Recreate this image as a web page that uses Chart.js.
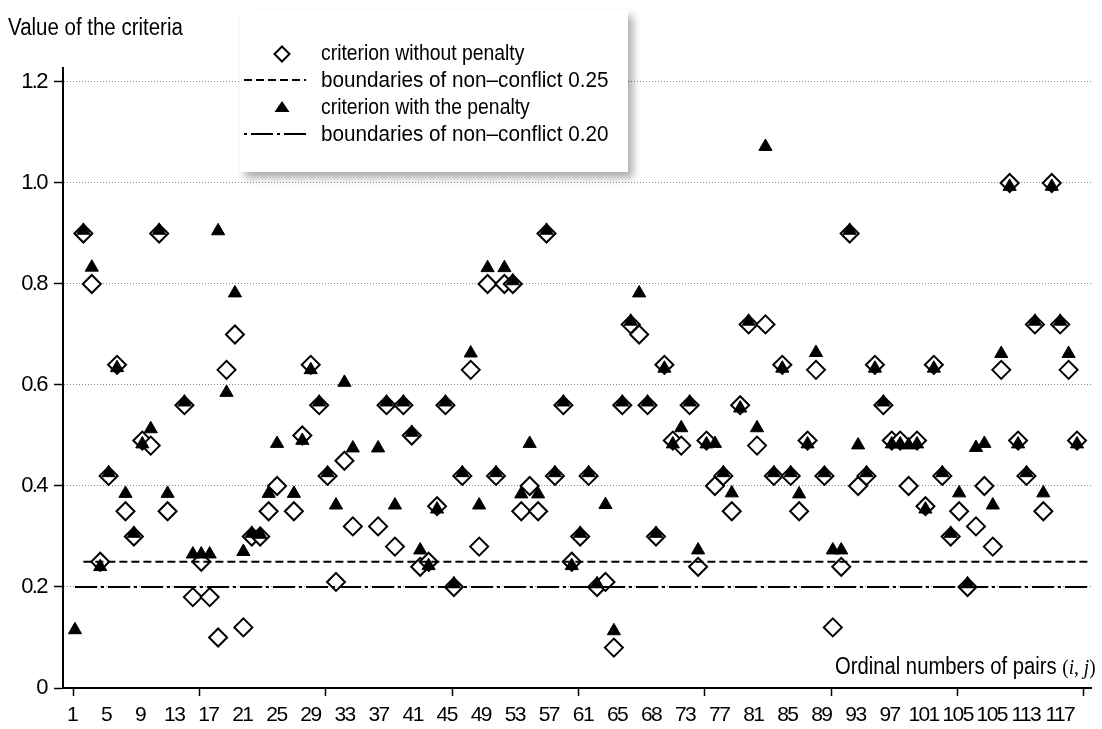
<!DOCTYPE html>
<html>
<head>
<meta charset="utf-8">
<script src="https://cdn.jsdelivr.net/npm/chart.js@4/dist/chart.umd.min.js"></script>
<style>
html,body{margin:0;padding:0;background:#fff;}
#wrap{position:relative;width:1102px;height:729px;overflow:hidden;}
#c{position:absolute;left:0;top:0;}
.txt{position:absolute;font-family:'Liberation Sans',Arial,sans-serif;color:#000;white-space:nowrap;transform-origin:0 50%;}
#legend{position:absolute;left:240px;top:10px;width:388px;height:162px;background:#fff;box-shadow:5px 6px 8px rgba(0,0,0,0.32);}
#legend svg{position:absolute;}
.serif{font-family:'Liberation Serif','DejaVu Serif',serif;}
</style>
</head>
<body>
<div id="wrap">
<canvas id="c" width="1102" height="729"></canvas>
<div class="txt" style="left:8px;top:16px;font-size:23px;line-height:23px;transform:scaleX(0.89);">Value of the criteria</div>
<div class="txt" style="left:835px;top:655px;font-size:23px;line-height:23px;transform:scaleX(0.88);">Ordinal numbers of pairs <span class="serif" style="font-size:22px;">(<i>i</i>, <i>j</i>)</span></div>
<div id="legend">
  <svg style="left:31px;top:33px;" width="22" height="22"><polygon points="11,3.5 18.5,11 11,18.5 3.5,11" fill="#fff" stroke="#000" stroke-width="2"/></svg>
  <svg style="left:4px;top:67px;" width="62" height="6"><line x1="0" y1="3" x2="62" y2="3" stroke="#000" stroke-width="2" stroke-dasharray="8,4"/></svg>
  <svg style="left:33px;top:90px;" width="18" height="14"><polygon points="9,1 16.5,12 1.5,12" fill="#000"/></svg>
  <svg style="left:4px;top:121px;" width="62" height="6"><line x1="0" y1="3" x2="62" y2="3" stroke="#000" stroke-width="2" stroke-dasharray="3,4,22,4"/></svg>
  <div class="txt" style="left:81px;top:32px;font-size:22px;line-height:22px;transform:scaleX(0.88);">criterion without penalty</div>
  <div class="txt" style="left:81px;top:59px;font-size:22px;line-height:22px;transform:scaleX(0.94);">boundaries of non&#8211;conflict 0.25</div>
  <div class="txt" style="left:81px;top:86px;font-size:22px;line-height:22px;transform:scaleX(0.88);">criterion with the penalty</div>
  <div class="txt" style="left:81px;top:113px;font-size:22px;line-height:22px;transform:scaleX(0.94);">boundaries of non&#8211;conflict 0.20</div>
</div>
</div>
<script>
// ---------------- data ----------------
const pairs = Array.from({length: 120}, (_, k) => k + 1);

const withoutPenalty = [
  null, 0.90, 0.80, 0.25, 0.42, 0.64, 0.35, 0.30, 0.49, 0.48,
  0.90, 0.35, null, 0.56, 0.18, 0.25, 0.18, 0.10, 0.63, 0.70,
  0.12, 0.30, 0.30, 0.35, 0.40, null, 0.35, 0.50, 0.64, 0.56,
  0.42, 0.21, 0.45, 0.32, null, null, 0.32, 0.56, 0.28, 0.56,
  0.50, 0.24, 0.25, 0.36, 0.56, 0.20, 0.42, 0.63, 0.28, 0.80,
  0.42, 0.80, 0.80, 0.35, 0.40, 0.35, 0.90, 0.42, 0.56, 0.25,
  0.30, 0.42, 0.20, 0.21, 0.08, 0.56, 0.72, 0.70, 0.56, 0.30,
  0.64, 0.49, 0.48, 0.56, 0.24, 0.49, 0.40, 0.42, 0.35, 0.56,
  0.72, 0.48, 0.72, 0.42, 0.64, 0.42, 0.35, 0.49, 0.63, 0.42,
  0.12, 0.24, 0.90, 0.40, 0.42, 0.64, 0.56, 0.49, 0.49, 0.40,
  0.49, 0.36, 0.64, 0.42, 0.30, 0.35, 0.20, 0.32, 0.40, 0.28,
  0.63, 1.00, 0.49, 0.42, 0.72, 0.35, 1.00, 0.72, 0.63, 0.49
];

const withPenalty = [
  0.115, 0.906, 0.833, 0.240, 0.426, 0.634, 0.385, 0.306, 0.483, 0.513,
  0.906, 0.385, null, 0.566, 0.265, 0.265, 0.265, 0.905, 0.585, 0.782,
  0.270, 0.306, 0.304, 0.385, 0.484, null, 0.385, 0.490, 0.630, 0.566,
  0.426, 0.362, 0.605, 0.475, null, null, 0.475, 0.566, 0.362, 0.566,
  0.506, 0.273, 0.242, 0.354, 0.566, 0.206, 0.426, 0.663, 0.362, 0.832,
  0.426, 0.832, 0.806, 0.384, 0.484, 0.384, 0.906, 0.426, 0.566, 0.242,
  0.306, 0.426, 0.206, 0.363, 0.113, 0.566, 0.726, 0.782, 0.566, 0.306,
  0.633, 0.483, 0.515, 0.566, 0.273, 0.483, 0.484, 0.426, 0.386, 0.554,
  0.726, 0.515, 1.072, 0.426, 0.633, 0.426, 0.384, 0.483, 0.664, 0.426,
  0.273, 0.273, 0.906, 0.481, 0.426, 0.633, 0.566, 0.483, 0.483, 0.481,
  0.483, 0.354, 0.633, 0.426, 0.306, 0.386, 0.206, 0.476, 0.484, 0.362,
  0.662, 0.993, 0.483, 0.426, 0.726, 0.386, 0.993, 0.726, 0.662, 0.483
];

const boundary025 = 0.25;
const boundary020 = 0.20;

const xTickLabels = ['1','5','9','13','17','21','25','29','33','37','41','45','49','53','57',
  '61','65','68','73','77','81','85','89','93','97','101','105','105','113','117'];
const yTickValues = [0, 0.2, 0.4, 0.6, 0.8, 1.0, 1.2];

// ---------------- layout ----------------
const X_MIN = -0.42, X_MAX = 121.66, Y_MAX = 1.2277;
const markPositions = Array.from({length: 9}, (_, k) => 0.8 + 15 * k);
const labelPositions = xTickLabels.map((_, k) => 0.65 + 4.045 * k);
const nMarks = markPositions.length;

Chart.defaults.font.family = "'Liberation Sans',Arial,sans-serif";
Chart.defaults.color = '#000';

const narrowText = {
  id: 'narrowText',
  beforeInit(chart) { chart.ctx.letterSpacing = '-1.6px'; },
  beforeDraw(chart) { chart.ctx.letterSpacing = '-1.6px'; }
};

const toPoints = arr => pairs.map((p, k) => ({x: p, y: arr[k]}));
const firstValid = arr => pairs[arr.findIndex(v => v !== null)];

new Chart(document.getElementById('c'), {
  type: 'scatter',
  plugins: [narrowText],
  data: {
    datasets: [
      {
        label: 'criterion with the penalty',
        data: toPoints(withPenalty),
        pointStyle: 'triangle', pointRadius: 7.6, borderWidth: 1,
        backgroundColor: '#000', borderColor: '#000', order: 0, clip: false
      },
      {
        label: 'boundaries of non-conflict 0.25',
        data: [{x: firstValid(withoutPenalty), y: boundary025}, {x: X_MAX, y: boundary025}],
        showLine: true, pointRadius: 0, borderColor: '#000', borderWidth: 2,
        borderDash: [8, 4], order: 1
      },
      {
        label: 'boundaries of non-conflict 0.20',
        data: [{x: firstValid(withPenalty), y: boundary020}, {x: X_MAX, y: boundary020}],
        showLine: true, pointRadius: 0, borderColor: '#000', borderWidth: 2,
        borderDash: [22, 4, 3, 4], order: 1
      },
      {
        label: 'criterion without penalty',
        data: toPoints(withoutPenalty),
        pointStyle: 'rectRot', pointRadius: 9, borderWidth: 2,
        backgroundColor: '#fff', borderColor: '#000', order: 2, clip: false
      }
    ]
  },
  options: {
    responsive: false,
    animation: false,
    events: [],
    layout: {padding: {left: 0, right: 9, top: 68, bottom: 0}},
    plugins: {legend: {display: false}, tooltip: {enabled: false}, title: {display: false}},
    scales: {
      x: {
        type: 'linear', min: X_MIN, max: X_MAX,
        afterBuildTicks: s => { s.ticks = markPositions.concat(labelPositions).map(v => ({value: v})); },
        afterFit: s => { s.height = 41; },
        ticks: {
          autoSkip: false, maxRotation: 0, padding: 7,
          font: {size: 21},
          callback: (v, i) => i < nMarks ? '' : xTickLabels[i - nMarks]
        },
        grid: {
          drawOnChartArea: false, drawTicks: true, tickLength: 8, tickWidth: 1.5,
          tickColor: ctx => ctx.index < nMarks ? '#000' : 'rgba(0,0,0,0)'
        },
        border: {display: true, color: '#000', width: 2}
      },
      y: {
        type: 'linear', min: 0, max: Y_MAX,
        afterBuildTicks: s => { s.ticks = yTickValues.map(v => ({value: v})); },
        afterFit: s => { s.width = 63; },
        ticks: {
          padding: 7, font: {size: 22},
          callback: v => v === 0 ? '0' : v.toFixed(1)
        },
        grid: {
          drawTicks: true, tickLength: 9, tickWidth: 1.5, tickColor: '#000',
          lineWidth: 1,
          color: ctx => (ctx.tick && ctx.tick.value === 0) ? 'rgba(0,0,0,0)' : '#8a8a8a'
        },
        border: {display: true, color: '#000', width: 2, dash: [1, 2]}
      }
    }
  }
});
</script>
</body>
</html>
